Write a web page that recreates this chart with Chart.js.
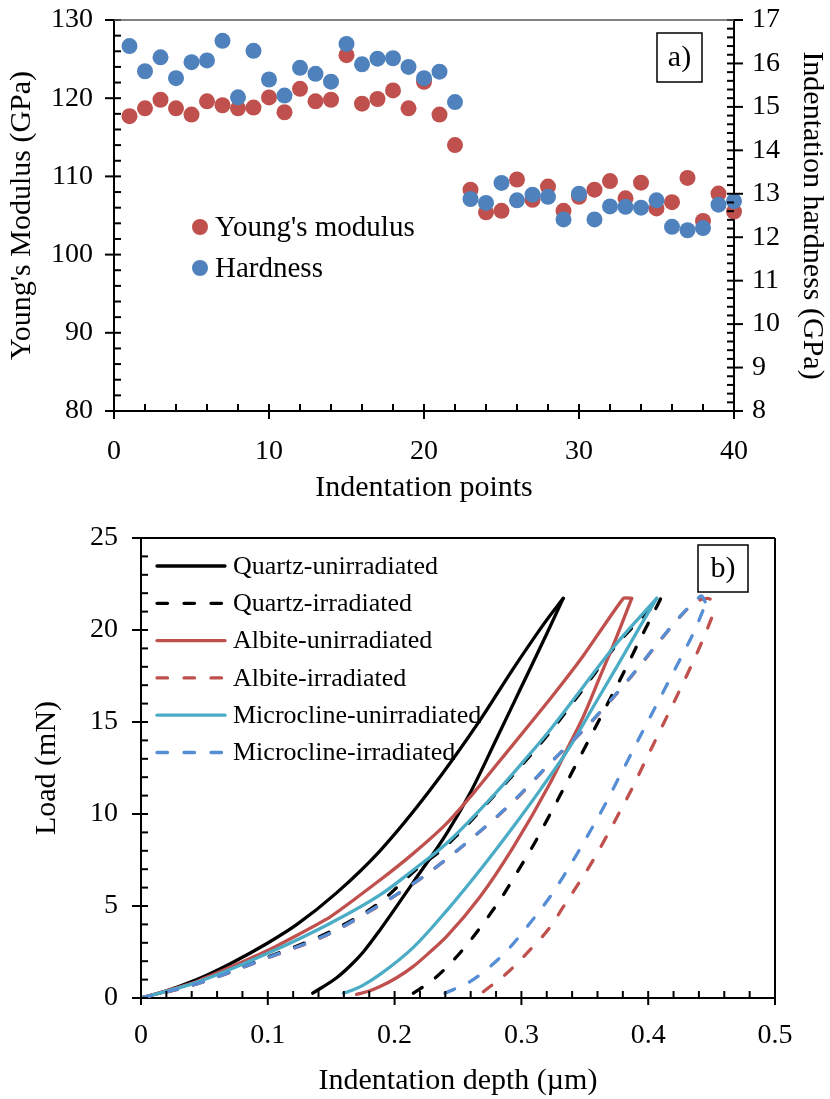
<!DOCTYPE html>
<html><head><meta charset="utf-8">
<script src="https://cdn.jsdelivr.net/npm/chart.js@4.4.0/dist/chart.umd.min.js"></script>
<style>
html,body{margin:0;padding:0;background:#fff;}
#wrap{position:relative;width:830px;height:1099px;background:#fff;}
#c1{position:absolute;left:0;top:0;}
#c2{position:absolute;left:0;top:510px;}
</style></head><body>
<div id="wrap"><canvas id="c1" width="830" height="510"></canvas><canvas id="c2" width="830" height="589"></canvas></div>
<script>
// ---------- Panel a) data ----------
const indentationPoints = [1,2,3,4,5,6,7,8,9,10,11,12,13,14,15,16,17,18,19,20,21,22,23,24,25,26,27,28,29,30,31,32,33,34,35,36,37,38,39,40];
const youngsModulus = [117.7,118.7,119.8,118.7,117.9,119.6,119.1,118.7,118.8,120.1,118.2,121.2,119.6,119.8,125.5,119.3,119.9,121.0,118.7,122.1,117.9,114.0,108.3,105.4,105.6,109.6,107.0,108.7,105.6,107.4,108.3,109.4,107.2,109.2,105.9,106.7,109.8,104.3,107.8,105.5];
const hardness = [16.40,15.82,16.14,15.66,16.03,16.07,16.52,15.22,16.29,15.63,15.26,15.90,15.76,15.58,16.45,15.98,16.11,16.12,15.92,15.66,15.81,15.11,12.88,12.79,13.25,12.85,12.98,12.93,12.41,13.00,12.41,12.71,12.70,12.68,12.85,12.24,12.16,12.21,12.75,12.83];

// ---------- Panel b) data (depth in µm, load in mN); loading and unloading branches ----------
const quartzUnirrLoadingDepth   = [0,0.018,0.044,0.070,0.099,0.123,0.154,0.1885,0.228,0.2674,0.2936,0.320,0.333];
const quartzUnirrLoadingLoad    = [0,0.34,1.0,1.85,2.95,4.0,5.7,8.0,11.3,15.1,17.9,20.55,21.72];
const quartzUnirrUnloadingDepth = [0.1354,0.1543,0.165,0.1753,0.1885,0.2148,0.2411,0.260,0.2805,0.2989,0.320,0.333];
const quartzUnirrUnloadingLoad  = [0.26,1.1,1.75,2.5,3.7,6.3,8.95,11.2,14.1,16.75,19.8,21.72];

const quartzIrrLoadingDepth   = [0,0.044,0.099,0.149,0.1885,0.2148,0.2411,0.2805,0.3226,0.3488,0.3752,0.410];
const quartzIrrLoadingLoad    = [0,0.78,2.2,3.6,5.2,6.85,8.3,11.15,14.45,16.8,19.2,21.72];
const quartzIrrUnloadingDepth = [0.2148,0.2305,0.2463,0.2595,0.2726,0.2857,0.2963,0.3094,0.320,0.3304,0.3409,0.3515,0.362,0.3725,0.383,0.3922,0.4014,0.410];
const quartzIrrUnloadingLoad  = [0.26,1.0,2.05,3.1,4.3,5.6,6.8,8.3,9.65,11.0,12.4,13.8,15.2,16.6,18.0,19.3,20.55,21.72];

const albiteUnirrLoadingDepth   = [0,0.044,0.099,0.149,0.1885,0.2148,0.2411,0.263,0.2884,0.3226,0.3488,0.3804,0.387];
const albiteUnirrLoadingLoad    = [0,0.9,2.55,4.4,6.41,7.86,9.49,11.2,13.35,16.25,18.6,21.72,21.72];
const albiteUnirrUnloadingDepth = [0.170,0.180,0.1885,0.2016,0.2148,0.2279,0.2411,0.2674,0.2936,0.3226,0.3357,0.3488,0.362,0.3752,0.387];
const albiteUnirrUnloadingLoad  = [0.2,0.38,0.62,1.1,1.72,2.5,3.35,5.5,8.2,11.67,13.48,15.29,17.46,19.64,21.72];

const albiteIrrLoadingDepth   = [0,0.044,0.099,0.149,0.1885,0.2227,0.2595,0.2936,0.3226,0.3541,0.3843,0.4119,0.4251,0.4382,0.447,0.454];
const albiteIrrLoadingLoad    = [0,0.76,2.15,3.5,5.05,6.59,8.59,10.67,12.75,14.93,17.28,19.64,20.72,21.55,21.72,21.35];
const albiteIrrUnloadingDepth = [0.270,0.2884,0.3042,0.3226,0.333,0.3449,0.3567,0.3673,0.3778,0.387,0.3961,0.4067,0.4159,0.4264,0.4356,0.4448,0.454];
const albiteIrrUnloadingLoad  = [0.34,1.34,2.43,3.85,4.95,6.2,7.5,8.8,10.15,11.35,12.65,14.15,15.45,16.95,18.3,19.75,21.35];

const microUnirrLoadingDepth   = [0,0.044,0.099,0.149,0.1885,0.2148,0.2411,0.2805,0.3015,0.3226,0.3488,0.3752,0.4067];
const microUnirrLoadingLoad    = [0,0.85,2.4,4.05,5.6,6.96,8.41,11.2,12.85,14.57,16.92,19.28,21.72];
const microUnirrUnloadingDepth = [0.1596,0.1675,0.1753,0.1885,0.2148,0.2411,0.2674,0.2936,0.3147,0.3383,0.3567,0.3752,0.3935,0.4067];
const microUnirrUnloadingLoad  = [0.26,0.45,0.7,1.28,2.75,4.75,6.96,9.31,11.3,13.66,15.83,18.0,20.18,21.72];

const microIrrLoadingDepth   = [0,0.044,0.099,0.149,0.1885,0.2227,0.2595,0.2936,0.3226,0.3541,0.3843,0.4119,0.4251,0.4382,0.442,0.4455];
const microIrrLoadingLoad    = [0,0.77,2.17,3.52,5.07,6.6,8.6,10.7,12.77,14.95,17.3,19.66,20.74,21.65,21.85,21.45];
const microIrrUnloadingDepth = [0.2397,0.2595,0.2752,0.291,0.3042,0.3226,0.333,0.3436,0.3541,0.3659,0.3752,0.3857,0.3961,0.4067,0.4172,0.4277,0.4365,0.4455];
const microIrrUnloadingLoad  = [0.26,0.89,1.70,2.75,3.85,5.5,6.6,7.8,9.05,10.5,11.75,13.15,14.55,15.95,17.35,18.75,19.95,21.45];

const curveLabels = ['Quartz-unirradiated','Quartz-irradiated','Albite-unirradiated','Albite-irradiated','Microcline-unirradiated','Microcline-irradiated'];

// ---------- helpers ----------
const FONT = "'Liberation Serif','Times New Roman',serif";
const pairs = (xs, ys) => xs.map((v, i) => ({x: v, y: ys[i]}));

const tickPlugin = {
  id: 'customTicks',
  afterDraw(chart, args, opts) {
    const ctx = chart.ctx, ca = chart.chartArea;
    ctx.save();
    ctx.strokeStyle = '#000';
    ctx.lineWidth = 2;
    ctx.lineCap = 'butt';
    (opts.specs || []).forEach(s => {
      const sc = chart.scales[s.id];
      const n = Math.round((s.max - s.min) / s.minor);
      for (let i = 0; i <= n; i++) {
        const v = s.min + i * s.minor;
        const r = v / s.major;
        const isMajor = Math.abs(r - Math.round(r)) < 1e-6;
        const inn = s.inside, out = isMajor ? s.outside : 0;
        ctx.beginPath();
        if (s.side === 'left') {
          const y = sc.getPixelForValue(v), x = ca.left;
          ctx.moveTo(x - out, y); ctx.lineTo(x + inn, y);
        } else if (s.side === 'right') {
          const y = sc.getPixelForValue(v), x = ca.right;
          ctx.moveTo(x + out, y); ctx.lineTo(x - inn, y);
        } else {
          const x = sc.getPixelForValue(v), y = ca.bottom;
          ctx.moveTo(x, y + out); ctx.lineTo(x, y - inn);
        }
        ctx.stroke();
      }
    });
    (opts.frame || []).forEach(f => {
      ctx.strokeStyle = f.color; ctx.lineWidth = f.width;
      ctx.beginPath();
      if (f.side === 'top') { ctx.moveTo(ca.left, ca.top); ctx.lineTo(ca.right, ca.top); }
      if (f.side === 'right') { ctx.moveTo(ca.right, ca.top); ctx.lineTo(ca.right, ca.bottom); }
      ctx.stroke();
    });
    ctx.restore();
  }
};

const innerLegend = {
  id: 'innerLegend',
  afterDraw(chart, args, o) {
    const ctx = chart.ctx, ca = chart.chartArea;
    ctx.save();
    ctx.font = o.fontSize + 'px ' + FONT;
    ctx.textBaseline = 'middle';
    const items = chart.data.datasets.filter(ds => ds.inLegend);
    items.forEach((ds, i) => {
      const y = ca.top + o.top + i * o.spacing;
      if (o.kind === 'marker') {
        ctx.beginPath();
        ctx.fillStyle = ds.backgroundColor;
        ctx.arc(ca.left + o.markerX, y, o.radius, 0, Math.PI * 2);
        ctx.fill();
      } else {
        ctx.beginPath();
        ctx.strokeStyle = ds.borderColor;
        ctx.lineWidth = ds.borderWidth;
        ctx.lineCap = 'round';
        ctx.setLineDash(ds.borderDash || []);
        ctx.moveTo(ca.left + o.lineX0, y);
        ctx.lineTo(ca.left + o.lineX1, y);
        ctx.stroke();
        ctx.setLineDash([]);
      }
      ctx.fillStyle = '#000';
      ctx.fillText(ds.label, ca.left + o.textX, y + 1);
    });
    ctx.restore();
  }
};

const panelLabel = {
  id: 'panelLabel',
  afterDraw(chart, args, o) {
    const ctx = chart.ctx;
    ctx.save();
    ctx.fillStyle = '#fff';
    ctx.fillRect(o.x, o.y, o.w, o.h);
    ctx.strokeStyle = '#000';
    ctx.lineWidth = 1.5;
    ctx.strokeRect(o.x, o.y, o.w, o.h);
    ctx.fillStyle = '#000';
    ctx.font = o.size + 'px ' + FONT;
    ctx.textAlign = 'center';
    ctx.textBaseline = 'middle';
    ctx.fillText(o.text, o.x + o.w / 2, o.y + o.h / 2 + 1);
    ctx.restore();
  }
};

const tickFont = {family: FONT, size: 28};
const titleFont = {family: FONT, size: 30};

// ---------- Panel a) ----------
new Chart(document.getElementById('c1'), {
  type: 'scatter',
  data: {
    datasets: [
      {label: "Young's modulus", inLegend: true, data: pairs(indentationPoints, youngsModulus), yAxisID: 'y',
       backgroundColor: '#C0504D', borderColor: '#C0504D', pointRadius: 8, pointHoverRadius: 8, borderWidth: 0, clip: false, order: 2},
      {label: 'Hardness', inLegend: true, data: pairs(indentationPoints, hardness), yAxisID: 'y2',
       backgroundColor: '#4F81BD', borderColor: '#4F81BD', pointRadius: 8, pointHoverRadius: 8, borderWidth: 0, clip: false, order: 1}
    ]
  },
  options: {
    responsive: false, animation: false, devicePixelRatio: 1,
    layout: {padding: {top: 20, left: 0, right: 0, bottom: 0}},
    plugins: {
      legend: {display: false}, tooltip: {enabled: false},
      customTicks: {specs: [
        {id: 'x', side: 'bottom', min: 0, max: 40, minor: 2, major: 10, inside: 7, outside: 8},
        {id: 'y', side: 'left', min: 80, max: 130, minor: 2, major: 10, inside: 7, outside: 9},
        {id: 'y2', side: 'right', min: 8, max: 17, minor: 0.2, major: 1, inside: 7, outside: 9}
      ], frame: [{side: 'top', color: '#595959', width: 1.5}]},
      innerLegend: {kind: 'marker', top: 207, spacing: 41, markerX: 86, radius: 8, textX: 101, fontSize: 29},
      panelLabel: {x: 657, y: 33, w: 45, h: 49, text: 'a)', size: 30}
    },
    scales: {
      x: {type: 'linear', position: 'bottom', min: 0, max: 40,
          ticks: {stepSize: 10, font: tickFont, color: '#000', padding: 1, maxRotation: 0},
          grid: {display: false, drawTicks: true, tickLength: 23}, border: {display: true, color: '#000', width: 2},
          title: {display: true, text: 'Indentation points', font: titleFont, color: '#000', padding: {top: 0, bottom: 4}},
          afterFit(s) { s.height = 99; }},
      y: {type: 'linear', position: 'left', min: 80, max: 130,
          ticks: {stepSize: 10, font: tickFont, color: '#000', padding: 1},
          grid: {display: false, drawTicks: true, tickLength: 20}, border: {display: true, color: '#000', width: 2},
          title: {display: true, text: "Young's Modulus (GPa)", font: titleFont, color: '#000', padding: {top: 4, bottom: 0}},
          afterFit(s) { s.width = 114; }},
      y2: {type: 'linear', position: 'right', min: 8, max: 17,
          ticks: {stepSize: 1, font: tickFont, color: '#000', padding: 1},
          grid: {display: false, drawTicks: true, tickLength: 17}, border: {display: true, color: '#000', width: 2},
          title: {display: true, text: 'Indentation hardness (GPa)', font: titleFont, color: '#000', padding: {top: 0, bottom: 0}},
          afterFit(s) { s.width = 96; }}
    }
  },
  plugins: [tickPlugin, innerLegend, panelLabel]
});

// ---------- Panel b) ----------
const lineDs = (label, inLegend, xs, ys, color, dashed, order, mode) => ({
  label, inLegend, data: pairs(xs, ys), borderColor: color, backgroundColor: color,
  borderWidth: 3.3, borderDash: dashed ? [10.5, 16.5] : [], borderCapStyle: 'round', borderJoinStyle: 'round',
  pointRadius: 0, pointHoverRadius: 0, fill: false,
  cubicInterpolationMode: mode || 'monotone', tension: mode ? 0.15 : 0,
  showLine: true, order
});

new Chart(document.getElementById('c2'), {
  type: 'scatter',
  data: {
    datasets: [
      lineDs(curveLabels[0], true,  quartzUnirrLoadingDepth, quartzUnirrLoadingLoad, '#000000', false, 6),
      lineDs(curveLabels[0], false, quartzUnirrUnloadingDepth, quartzUnirrUnloadingLoad, '#000000', false, 6),
      lineDs(curveLabels[1], true,  quartzIrrLoadingDepth, quartzIrrLoadingLoad, '#000000', true, 5),
      lineDs(curveLabels[1], false, quartzIrrUnloadingDepth, quartzIrrUnloadingLoad, '#000000', true, 5),
      lineDs(curveLabels[2], true,  albiteUnirrLoadingDepth, albiteUnirrLoadingLoad, '#C0504D', false, 4, 'default'),
      lineDs(curveLabels[2], false, albiteUnirrUnloadingDepth, albiteUnirrUnloadingLoad, '#C0504D', false, 4),
      lineDs(curveLabels[3], true,  albiteIrrLoadingDepth, albiteIrrLoadingLoad, '#C0504D', true, 3),
      lineDs(curveLabels[3], false, albiteIrrUnloadingDepth, albiteIrrUnloadingLoad, '#C0504D', true, 3),
      lineDs(curveLabels[4], true,  microUnirrLoadingDepth, microUnirrLoadingLoad, '#4BACC6', false, 2),
      lineDs(curveLabels[4], false, microUnirrUnloadingDepth, microUnirrUnloadingLoad, '#4BACC6', false, 2),
      lineDs(curveLabels[5], true,  microIrrLoadingDepth, microIrrLoadingLoad, '#558ED5', true, 1),
      lineDs(curveLabels[5], false, microIrrUnloadingDepth, microIrrUnloadingLoad, '#558ED5', true, 1)
    ]
  },
  options: {
    responsive: false, animation: false, devicePixelRatio: 1,
    layout: {padding: {top: 28, left: 0, right: 55, bottom: 0}},
    plugins: {
      legend: {display: false}, tooltip: {enabled: false},
      customTicks: {specs: [
        {id: 'x', side: 'bottom', min: 0, max: 0.5, minor: 0.02, major: 0.1, inside: 7, outside: 7},
        {id: 'y', side: 'left', min: 0, max: 25, minor: 1, major: 5, inside: 7, outside: 9}
      ], frame: [{side: 'top', color: '#000', width: 2}, {side: 'right', color: '#000', width: 2}]},
      innerLegend: {kind: 'line', top: 28, spacing: 37.3, lineX0: 16, lineX1: 84, textX: 92, fontSize: 26},
      panelLabel: {x: 698, y: 35, w: 50, h: 47, text: 'b)', size: 30}
    },
    scales: {
      x: {type: 'linear', position: 'bottom', min: 0, max: 0.5,
          ticks: {stepSize: 0.1, font: tickFont, color: '#000', padding: 1, maxRotation: 0},
          grid: {display: false, drawTicks: true, tickLength: 20}, border: {display: true, color: '#000', width: 2},
          title: {display: true, text: 'Indentation depth (\u00b5m)', font: titleFont, color: '#000', padding: {top: 0, bottom: 0}},
          afterFit(s) { s.height = 101; }},
      y: {type: 'linear', position: 'left', min: 0, max: 25,
          ticks: {stepSize: 5, font: tickFont, color: '#000', padding: 1},
          grid: {display: false, drawTicks: true, tickLength: 22}, border: {display: true, color: '#000', width: 2},
          title: {display: true, text: 'Load (mN)', font: titleFont, color: '#000', padding: {top: 29, bottom: 0}},
          afterFit(s) { s.width = 141; }}
    }
  },
  plugins: [tickPlugin, innerLegend, panelLabel]
});
</script>
</body></html>
